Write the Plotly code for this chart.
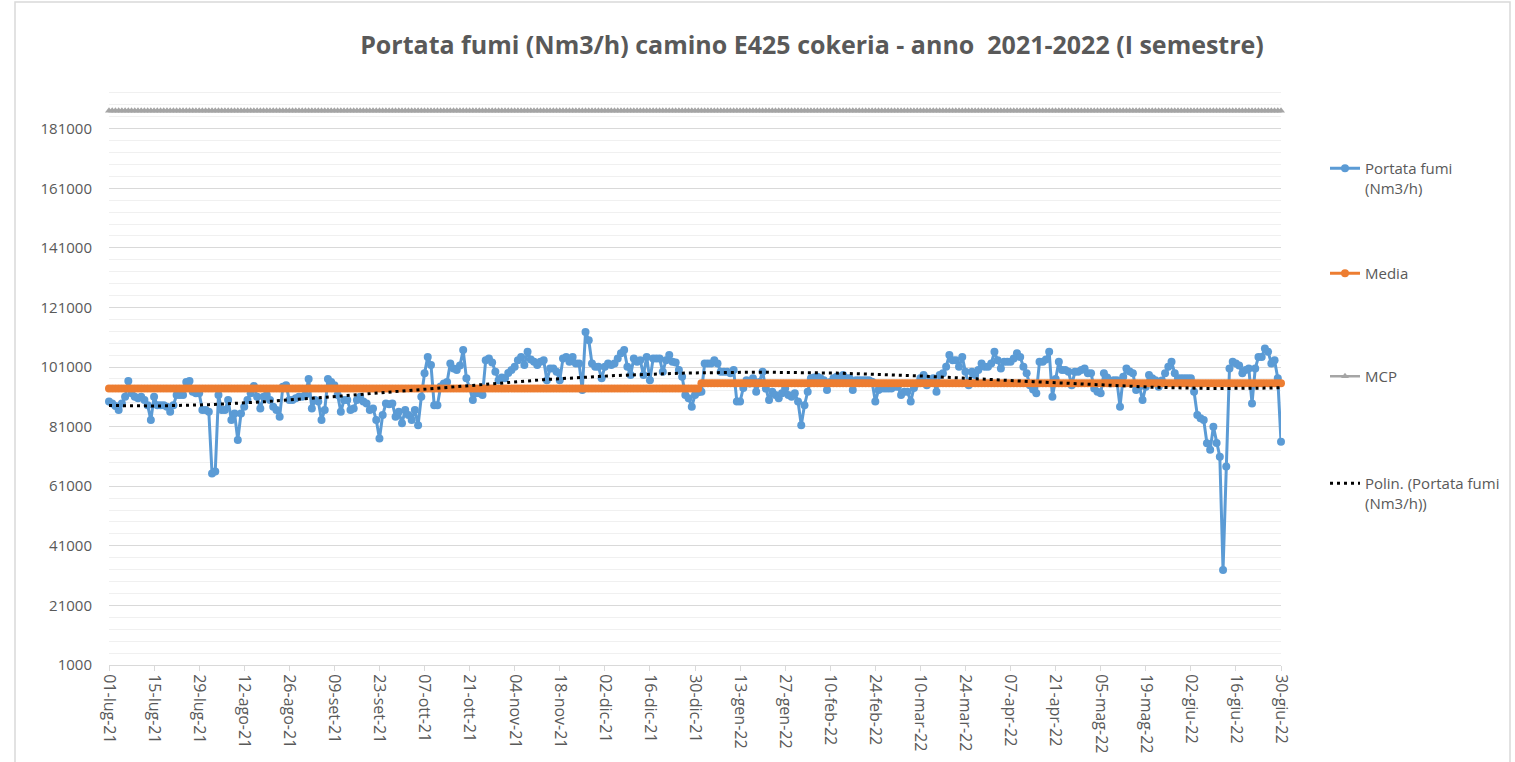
import numpy as np
import pandas as pd
import plotly.graph_objects as go

# ---------------- data ----------------
start_date = "2021-07-01"

portata_fumi = [
    # lug-21 .. set-21 (d0-d90)
    89400, 88800, 87900, 86600, 88800, 91000, 96300, 92200, 91000, 90500,
    91000, 89900, 88200, 83200, 91000, 88200, 88200, 88200, 87700, 86000,
    88200, 91600, 91600, 91600, 96000, 96300, 92700, 92200, 92200, 86600,
    86600, 86000, 65300, 65900, 91600, 86600, 86600, 89900, 83200, 85400,
    76500, 85400, 87700, 89900, 92200, 94600, 91000, 87100, 91000, 91600,
    89900, 87700, 86600, 84300, 94400, 94900, 89900, 89900, 90500, 91000,
    91000, 91600, 97000, 87100, 89900, 89400, 83200, 86600, 97000, 96000,
    94900, 91600, 86000, 89900, 89900, 86600, 87100, 89900, 91000, 89400,
    88800, 86600, 87100, 83200, 77000, 84900, 88800, 88500, 88800, 84300,
    86000,
    # d91-d183
    82100, 86600, 84900, 83200, 86600, 81500, 91000, 98900, 104400,
    101700, 88200, 88200, 94500, 95500, 96000, 102200, 100500, 100000, 101500,
    106700, 97200, 94000, 89900, 92200, 92200, 91600, 103300, 103900, 102500,
    99400, 96600, 97500, 97200, 99000, 100000, 101100, 103300, 104400, 101700,
    106100, 103500, 102800, 101700, 102800, 103300, 96600, 100500, 100500, 99400,
    96600, 103900, 104400, 102800, 104400, 102200, 102200, 93300, 112800, 110000,
    102200, 101100, 101100, 97200, 101100, 102200, 101700, 102200, 103900, 105600,
    106700, 101100, 98300, 103900, 102800, 103300, 98300, 104400, 96600, 103900,
    103900, 103900, 99400, 103300, 105000, 102800, 102500, 100000, 97700, 91600,
    90500, 87700, 91600, 92500,
    # d184-d282
    92700, 102200, 102200, 102200, 103300, 102200, 99400, 99400, 99400, 98900,
    100000, 89400, 89400, 94000, 96600, 95500, 97200, 92700, 96000, 99400,
    93800, 89900, 92700, 91600, 90500, 92200, 93800, 91600, 91000, 92200,
    89400, 81500, 88200, 92700, 97200, 97500, 97700, 97200, 96600, 93300,
    96000, 97200, 97700, 97700, 98300, 97200, 97200, 93300, 96600, 96600,
    96600, 96600, 96600, 96100, 89400, 93300, 93800, 93800, 93800, 93800,
    94400, 94400, 91600, 92700, 92700, 89400, 94000, 95500, 97200, 98300,
    94900, 96600, 97200, 92700, 98300, 98900, 101100, 105000, 103300, 103300,
    101100, 104400, 99400, 94900, 99400, 98300, 100000, 102200, 101100, 101100,
    102200, 106100, 103300, 100500, 102800, 102800, 102800, 103900, 105600,
    # d283-d335
    104400, 101100, 98900, 94900, 93500, 92200, 102800, 102800, 103500, 106100,
    91000, 97000, 102800, 100000, 100000, 99400, 94900, 99400, 99400, 100000,
    100500, 98900, 98900, 93800, 92700, 92200, 98900, 97500, 95500, 96600,
    96600, 87700, 97700, 100500, 99500, 98900, 93300, 94400, 89900, 94400,
    98300, 97200, 96600, 94400, 96500, 98900, 101100, 102800, 98900, 97200,
    97200, 97200, 97200,
    # d336-d364
    97200, 92700, 84900, 83800, 83200, 75400, 73200, 81000, 75500, 70900,
    32900, 67600, 100500, 102800, 102200, 101500, 98900, 100000, 100500, 88800,
    100500, 104400, 104400, 107200, 106100, 102200, 103300, 97200, 75900,
]

media_semestri = [93800, 95600]          # Media, lug-dic 2021 / gen-giu 2022
media_giorni = [184, 181]                # days in each half-year
mcp_valore = 187000

tick_labels = [
    "01-lug-21", "15-lug-21", "29-lug-21", "12-ago-21", "26-ago-21", "09-set-21",
    "23-set-21", "07-ott-21", "21-ott-21", "04-nov-21", "18-nov-21", "02-dic-21",
    "16-dic-21", "30-dic-21", "13-gen-22", "27-gen-22", "10-feb-22", "24-feb-22",
    "10-mar-22", "24-mar-22", "07-apr-22", "21-apr-22", "05-mag-22", "19-mag-22",
    "02-giu-22", "16-giu-22", "30-giu-22",
]

y_tick_values = [1000, 21000, 41000, 61000, 81000, 101000, 121000, 141000, 161000, 181000]

# ---------------- derived series ----------------
n = len(portata_fumi)
dates = pd.date_range(start_date, periods=n, freq="D")
media = []
for v, k in zip(media_semestri, media_giorni):
    media += [v] * k
mcp = [mcp_valore] * n

xi = np.arange(n, dtype=float)
coef = np.polyfit(xi / 100.0, np.array(portata_fumi, dtype=float), 4)
trend = np.polyval(coef, xi / 100.0)

tick_vals = list(dates[::14])

# ---------------- figure ----------------
W, H = 1515, 762
L, R, T, B = 109, 1281, 81, 665   # plot-area pixel box
TXT = "#595959"
FONT = "Open Sans"

fig = go.Figure()
fig.add_trace(go.Scatter(
    x=dates, y=portata_fumi, mode="lines+markers",
    name="Portata fumi<br>(Nm3/h)",
    line=dict(color="#5B9BD5", width=3),
    marker=dict(color="#5B9BD5", size=8),
    cliponaxis=False, legend="legend",
))
fig.add_trace(go.Scatter(
    x=dates, y=media, mode="lines+markers", name="Media",
    line=dict(color="#ED7D31", width=3),
    marker=dict(color="#ED7D31", size=8),
    cliponaxis=False, legend="legend2",
))
fig.add_trace(go.Scatter(
    x=dates, y=mcp, mode="lines+markers", name="MCP",
    line=dict(color="#A5A5A5", width=2.5),
    marker=dict(color="#A5A5A5", size=7, symbol="triangle-up"),
    cliponaxis=False, legend="legend3",
))
fig.add_trace(go.Scatter(
    x=dates, y=trend, mode="lines",
    name="Polin. (Portata fumi<br>(Nm3/h))",
    line=dict(color="black", width=3, dash="3px,4px"),
    legend="legend4",
))

pw, ph = R - L, B - T


def px2paper_x(px):
    return (px - L) / pw


def px2paper_y(py):
    return (B - py) / ph


def legend_at(py):
    return dict(
        x=px2paper_x(1325), y=px2paper_y(py), xanchor="left", yanchor="top",
        valign="top", bgcolor="rgba(0,0,0,0)",
        font=dict(family=FONT, size=15, color=TXT),
    )


fig.update_layout(
    width=W, height=H,
    margin=dict(l=L, r=W - R, t=T, b=H - B, pad=0, autoexpand=False),
    paper_bgcolor="white", plot_bgcolor="white",
    title=dict(
        text="Portata fumi (Nm3/h) camino E425 cokeria - anno \u00a02021-2022 (I semestre)",
        x=812 / W, xref="container", xanchor="center",
        y=1 - 45 / H, yref="container", yanchor="middle",
        font=dict(family=FONT, size=25, color=TXT, weight="bold"),
    ),
    showlegend=True,
    legend=legend_at(152),
    legend2=legend_at(257),
    legend3=legend_at(360),
    legend4=legend_at(467),
    xaxis=dict(
        range=[dates[0], dates[-1]],
        tickvals=tick_vals, ticktext=tick_labels, tickangle=90,
        tickfont=dict(family=FONT, size=16, color=TXT),
        showgrid=False, zeroline=False,
        showline=True, linecolor="#D9D9D9", linewidth=1,
        ticks="outside", ticklen=5, tickcolor="#D9D9D9",
    ),
    yaxis=dict(
        range=[1000, 197000], tick0=1000, dtick=20000,
        tickmode="array", tickvals=y_tick_values, tickformat="d",
        tickfont=dict(family=FONT, size=15, color=TXT),
        showgrid=True, gridcolor="#D9D9D9", gridwidth=1,
        zeroline=False, showline=False, ticks="", ticklabelstandoff=16,
        minor=dict(tick0=1000, dtick=4000, showgrid=True,
                   gridcolor="#F0F0F0", gridwidth=1),
    ),
    shapes=[dict(
        type="rect", xref="paper", yref="paper",
        x0=px2paper_x(15), x1=px2paper_x(1510),
        y0=px2paper_y(770), y1=px2paper_y(2),
        line=dict(color="#D9D9D9", width=1.5), fillcolor="rgba(0,0,0,0)",
        layer="below",
    )],
)

fig.write_html(
    "out.html",
    config={"displayModeBar": False},
    post_script="document.body.style.margin='0';document.body.style.overflow='hidden';",
)
